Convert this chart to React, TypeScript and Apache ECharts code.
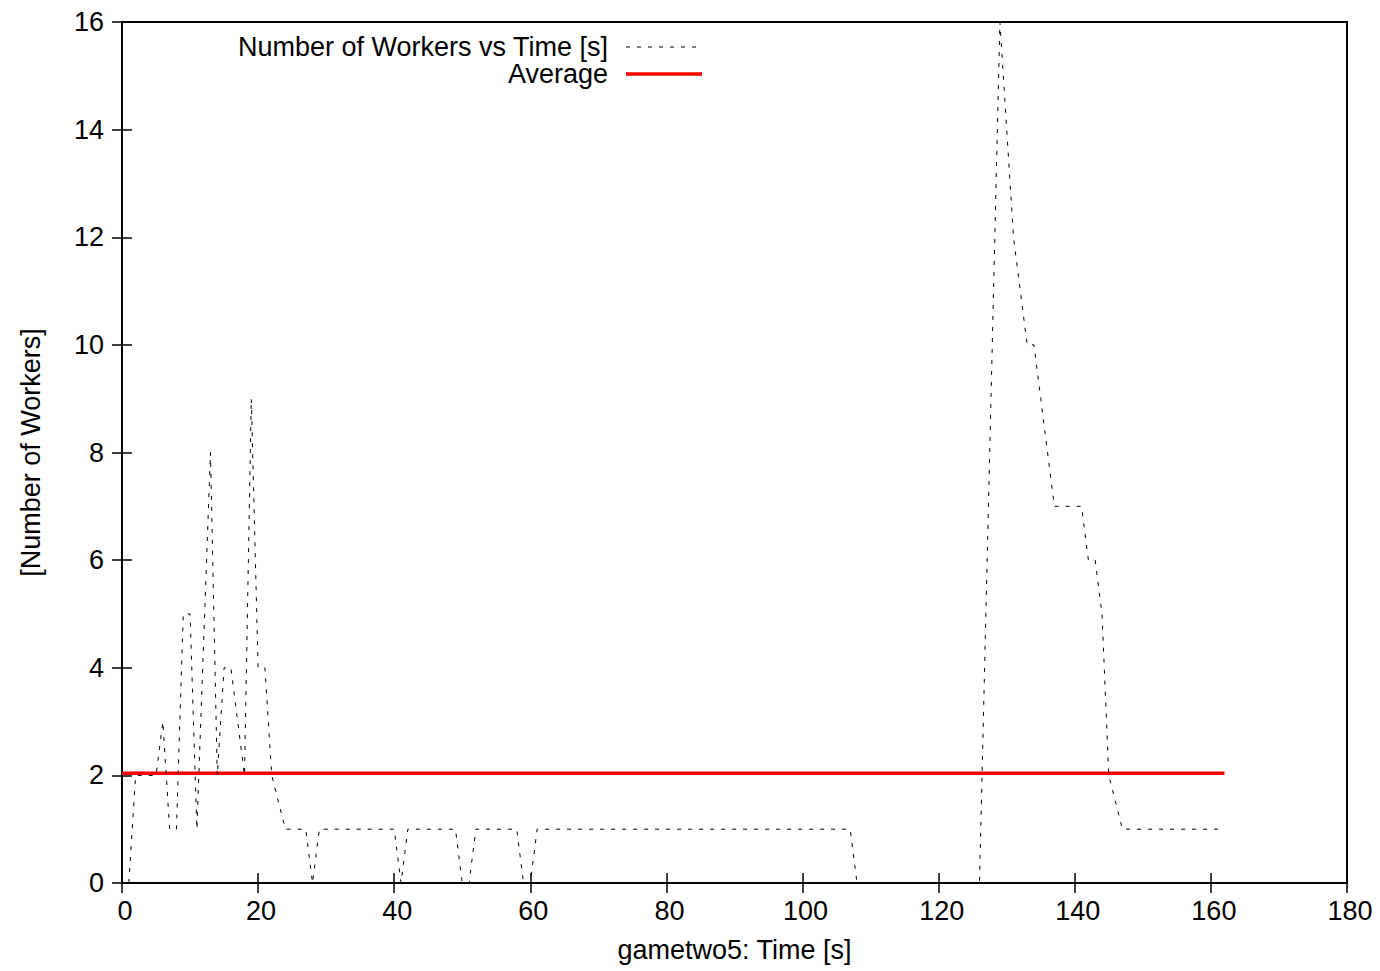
import React, { useEffect, useRef } from "react";
import * as echarts from "echarts";

const times = [1, 2, 5, 6, 7, 8, 9, 10, 11, 13, 14, 15, 16, 18, 19, 20, 21, 22, 24, 27, 28, 29, 40, 41, 42, 49, 50, 51, 52, 58, 59, 60, 61, 107, 108, 126, 129, 130, 131, 132, 133, 134, 135, 136, 137, 141, 142, 143, 144, 145, 147, 162];
const workers = [0, 2, 2, 3, 1, 1, 5, 5, 1, 8, 2, 4, 4, 2, 9, 4, 4, 2, 1, 1, 0, 1, 1, 0, 1, 1, 0, 0, 1, 1, 0, 0, 1, 1, 0, 0, 16, 14, 12, 11, 10, 10, 9, 8, 7, 7, 6, 6, 5, 2, 1, 1];
const averageTimes = [0, 162];
const averageValue = 2.04;

const seriesNames = ["Number of Workers vs Time [s]", "Average"];
const xTitle = "gametwo5: Time [s]";
const yTitle = "[Number of Workers]";

const FONT = "Liberation Sans, Arial, Helvetica, sans-serif";
const FS = 27;

export default function App() {
  const ref = useRef<HTMLDivElement>(null);
  useEffect(() => {
    if (!ref.current) return;
    const chart = echarts.init(ref.current, undefined, { renderer: "svg" });
    const tickStyle = { show: true, inside: true, length: 10, lineStyle: { color: "#000", width: 1.5 } };
    chart.setOption({
      animation: false,
      backgroundColor: "#fff",
      textStyle: { fontFamily: FONT },
      grid: { left: 122, right: 33, top: 22, bottom: 88, show: true, borderColor: "#000", borderWidth: 2, containLabel: false },
      xAxis: [
        {
          type: "value", min: 0, max: 180, interval: 20,
          axisLine: { show: false },
          axisTick: tickStyle,
          splitLine: { show: false },
          axisLabel: { color: "#000", fontSize: FS, fontFamily: FONT, margin: 14, padding: [0, 0, 0, 6] },
          name: xTitle, nameLocation: "middle", nameGap: 53,
          nameTextStyle: { color: "#000", fontSize: FS, fontFamily: FONT },
        },
        {
          type: "value", min: 0, max: 180, interval: 20, position: "top",
          axisLine: { show: false }, axisTick: tickStyle, splitLine: { show: false }, axisLabel: { show: false },
        },
      ],
      yAxis: [
        {
          type: "value", min: 0, max: 16, interval: 2,
          axisLine: { show: false },
          axisTick: tickStyle,
          splitLine: { show: false },
          axisLabel: { color: "#000", fontSize: FS, fontFamily: FONT, margin: 18 },
          name: yTitle, nameLocation: "middle", nameGap: 78, nameRotate: 90,
          nameTextStyle: { color: "#000", fontSize: FS, fontFamily: FONT },
        },
        {
          type: "value", min: 0, max: 16, interval: 2, position: "right",
          axisLine: { show: false }, axisTick: tickStyle, splitLine: { show: false }, axisLabel: { show: false },
        },
      ],
      series: [
        {
          name: seriesNames[0], type: "line", symbol: "none",
          data: times.map((t, i) => [t, workers[i]]),
          lineStyle: { color: "#000", width: 1, type: [4, 7] },
          z: 3,
        },
        {
          name: seriesNames[1], type: "line", symbol: "none",
          data: averageTimes.map((t) => [t, averageValue]),
          lineStyle: { color: "#ff0000", width: 3.5 },
          z: 2,
        },
      ],
      graphic: [
        { type: "text", x: 608, y: 47, style: { text: seriesNames[0], fill: "#000", font: `${FS}px ${FONT}`, textAlign: "right", textVerticalAlign: "middle" } },
        { type: "line", shape: { x1: 626, y1: 47, x2: 702, y2: 47 }, style: { stroke: "#000", lineWidth: 1, lineDash: [4, 7] } },
        { type: "text", x: 608, y: 74, style: { text: seriesNames[1], fill: "#000", font: `${FS}px ${FONT}`, textAlign: "right", textVerticalAlign: "middle" } },
        { type: "line", shape: { x1: 626, y1: 74, x2: 702, y2: 74 }, style: { stroke: "#ff0000", lineWidth: 3.5 } },
      ],
    });
    return () => chart.dispose();
  }, []);
  return <div ref={ref} style={{ width: 1380, height: 971, position: "absolute", left: 0, top: 0 }} />;
}
